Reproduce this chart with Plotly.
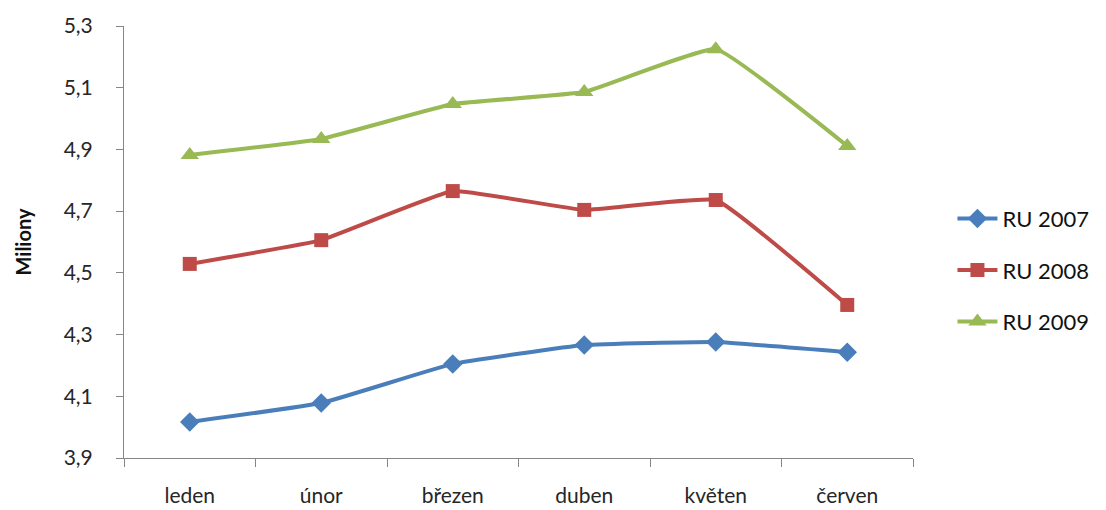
import plotly.graph_objects as go

# Monthly values (millions)
months = ["leden", "únor", "březen", "duben", "květen", "červen"]
ru_2007 = [4.017, 4.078, 4.205, 4.266, 4.276, 4.243]
ru_2008 = [4.529, 4.606, 4.765, 4.704, 4.736, 4.396]
ru_2009 = [4.882, 4.934, 5.047, 5.086, 5.225, 4.911]

y_ticks = [3.9, 4.1, 4.3, 4.5, 4.7, 4.9, 5.1, 5.3]

series = [
    ("RU 2007", ru_2007, "#4A7EBB", "diamond", 15),
    ("RU 2008", ru_2008, "#BE4B48", "square", 14),
    ("RU 2009", ru_2009, "#98B954", "triangle-up", 16),
]

FONT = "Lato"
TEXT_COLOR = "#262626"
AXIS_COLOR = "#868686"

fig = go.Figure()
for name, values, color, symbol, size in series:
    fig.add_trace(go.Scatter(
        x=months, y=values, name=name, mode="lines+markers",
        legendgroup=name,
        line=dict(color=color, width=4, shape="spline", smoothing=0.3),
        marker=dict(symbol=symbol, size=size, color=color, line=dict(width=0)),
    ))

fig.update_layout(
    width=1106, height=510,
    margin=dict(l=124, r=191, t=26, b=52),
    paper_bgcolor="white", plot_bgcolor="white",
    separators=", ",
    font=dict(family=FONT, size=21, color=TEXT_COLOR),
    showlegend=True,
    legend=dict(
        x=1.05, y=0.435, xanchor="left", yanchor="middle",
        font=dict(family=FONT, size=22, color="#111111"),
        traceorder="grouped", tracegroupgap=20, itemwidth=40,
        bgcolor="rgba(0,0,0,0)",
    ),
)

fig.update_xaxes(
    type="category", range=[-0.5, 5.5], automargin=False,
    showline=True, linecolor=AXIS_COLOR, linewidth=1,
    ticks="outside", tickson="boundaries", ticklen=8, tickcolor=AXIS_COLOR,
    showgrid=False, zeroline=False,
    tickfont=dict(family=FONT, size=21, color=TEXT_COLOR),
    ticklabelstandoff=19,
)

fig.update_yaxes(
    range=[3.9, 5.3], tickvals=y_ticks, tickformat=".1f", automargin=False,
    showline=True, linecolor=AXIS_COLOR, linewidth=1,
    ticks="outside", ticklen=7, tickcolor=AXIS_COLOR,
    showgrid=False, zeroline=False,
    tickfont=dict(family=FONT, size=21, color=TEXT_COLOR),
    ticklabelstandoff=19,
    title=dict(text="<b>Miliony</b>", font=dict(family=FONT, size=20, color="#111111"), standoff=26),
)

fig.write_html("out.html")
